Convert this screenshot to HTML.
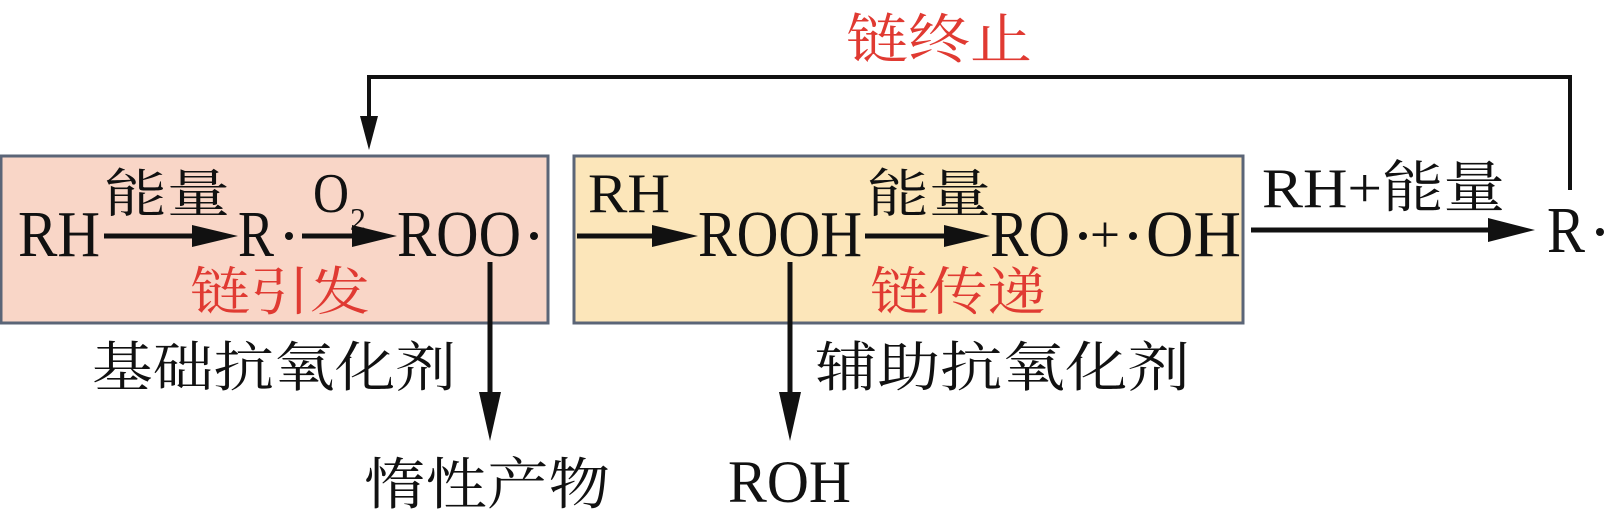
<!DOCTYPE html>
<html><head><meta charset="utf-8"><style>
html,body{margin:0;padding:0;background:#fff;}
svg{display:block;}
</style></head><body>
<svg width="1608" height="513" viewBox="0 0 1608 513" xmlns="http://www.w3.org/2000/svg" font-family="'Liberation Serif','Noto Serif CJK SC',serif" fill="#111">
<!-- boxes -->
<rect x="1" y="156" width="547" height="167" fill="#f9d6c7" stroke="#5b6577" stroke-width="3"/>
<rect x="574" y="156" width="669" height="167" fill="#fce6ba" stroke="#5b6577" stroke-width="3"/>

<!-- top loop -->
<text x="846" y="58" font-size="54" fill="#e03a32" textLength="186" lengthAdjust="spacingAndGlyphs">链终止</text>
<polyline points="1570,190 1570,77 369,77 369,120" fill="none" stroke="#111" stroke-width="4"/>
<polygon points="360,116 378,116 369,150" fill="#111"/>

<!-- row 1 box1 -->
<text x="18" y="256" font-size="66" textLength="82" lengthAdjust="spacingAndGlyphs">RH</text>
<text x="104" y="212" font-size="52" textLength="126" lengthAdjust="spacingAndGlyphs">能量</text>
<line x1="104" y1="236" x2="200" y2="236" stroke="#111" stroke-width="5"/>
<polygon points="192,225 238,236 192,247" fill="#111"/>
<text x="238" y="256" font-size="66" textLength="36" lengthAdjust="spacingAndGlyphs">R</text>
<circle cx="289" cy="236" r="4"/>
<text x="313" y="212" font-size="56" textLength="36" lengthAdjust="spacingAndGlyphs">O</text>
<text x="350" y="230" font-size="32">2</text>
<line x1="302" y1="236" x2="360" y2="236" stroke="#111" stroke-width="5"/>
<polygon points="352,225 397,236 352,247" fill="#111"/>
<text x="397" y="256" font-size="66" textLength="124" lengthAdjust="spacingAndGlyphs">ROO</text>
<circle cx="534" cy="236" r="4"/>
<text x="190" y="310" font-size="52" fill="#e03a32" textLength="180" lengthAdjust="spacingAndGlyphs">链引发</text>

<!-- row 1 box2 -->
<text x="588" y="212" font-size="56" textLength="82" lengthAdjust="spacingAndGlyphs">RH</text>
<line x1="577" y1="236" x2="660" y2="236" stroke="#111" stroke-width="5"/>
<polygon points="652,225 698,236 652,247" fill="#111"/>
<text x="698" y="256" font-size="66" textLength="164" lengthAdjust="spacingAndGlyphs">ROOH</text>
<text x="867" y="212" font-size="52" textLength="124" lengthAdjust="spacingAndGlyphs">能量</text>
<line x1="865" y1="236" x2="952" y2="236" stroke="#111" stroke-width="5"/>
<polygon points="944,225 990,236 944,247" fill="#111"/>
<text x="990" y="256" font-size="66" textLength="80" lengthAdjust="spacingAndGlyphs">RO</text>
<circle cx="1083" cy="236" r="4"/>
<text x="1090" y="252" font-size="52" textLength="30" lengthAdjust="spacingAndGlyphs">+</text>
<circle cx="1133" cy="236" r="4"/>
<text x="1146" y="256" font-size="66" textLength="95" lengthAdjust="spacingAndGlyphs">OH</text>
<text x="870" y="310" font-size="52" fill="#e03a32" textLength="176" lengthAdjust="spacingAndGlyphs">链传递</text>

<!-- right -->
<text x="1262" y="207" font-size="56" textLength="243" lengthAdjust="spacingAndGlyphs">RH+能量</text>
<line x1="1251" y1="230" x2="1495" y2="230" stroke="#111" stroke-width="5"/>
<polygon points="1488,218 1535,230 1488,242" fill="#111"/>
<text x="1547" y="252" font-size="66" textLength="38" lengthAdjust="spacingAndGlyphs">R</text>
<circle cx="1600" cy="232" r="4"/>

<!-- down arrows -->
<line x1="490" y1="262" x2="490" y2="400" stroke="#111" stroke-width="5"/>
<polygon points="479,392 501,392 490,441" fill="#111"/>
<line x1="790" y1="262" x2="790" y2="400" stroke="#111" stroke-width="5"/>
<polygon points="779,392 801,392 790,441" fill="#111"/>

<text x="92" y="386" font-size="54" textLength="364" lengthAdjust="spacingAndGlyphs">基础抗氧化剂</text>
<text x="815" y="386" font-size="54" textLength="375" lengthAdjust="spacingAndGlyphs">辅助抗氧化剂</text>
<text x="364" y="504" font-size="56" textLength="246" lengthAdjust="spacingAndGlyphs">惰性产物</text>
<text x="728" y="502" font-size="60" textLength="123" lengthAdjust="spacingAndGlyphs">ROH</text>
</svg>
</body></html>
